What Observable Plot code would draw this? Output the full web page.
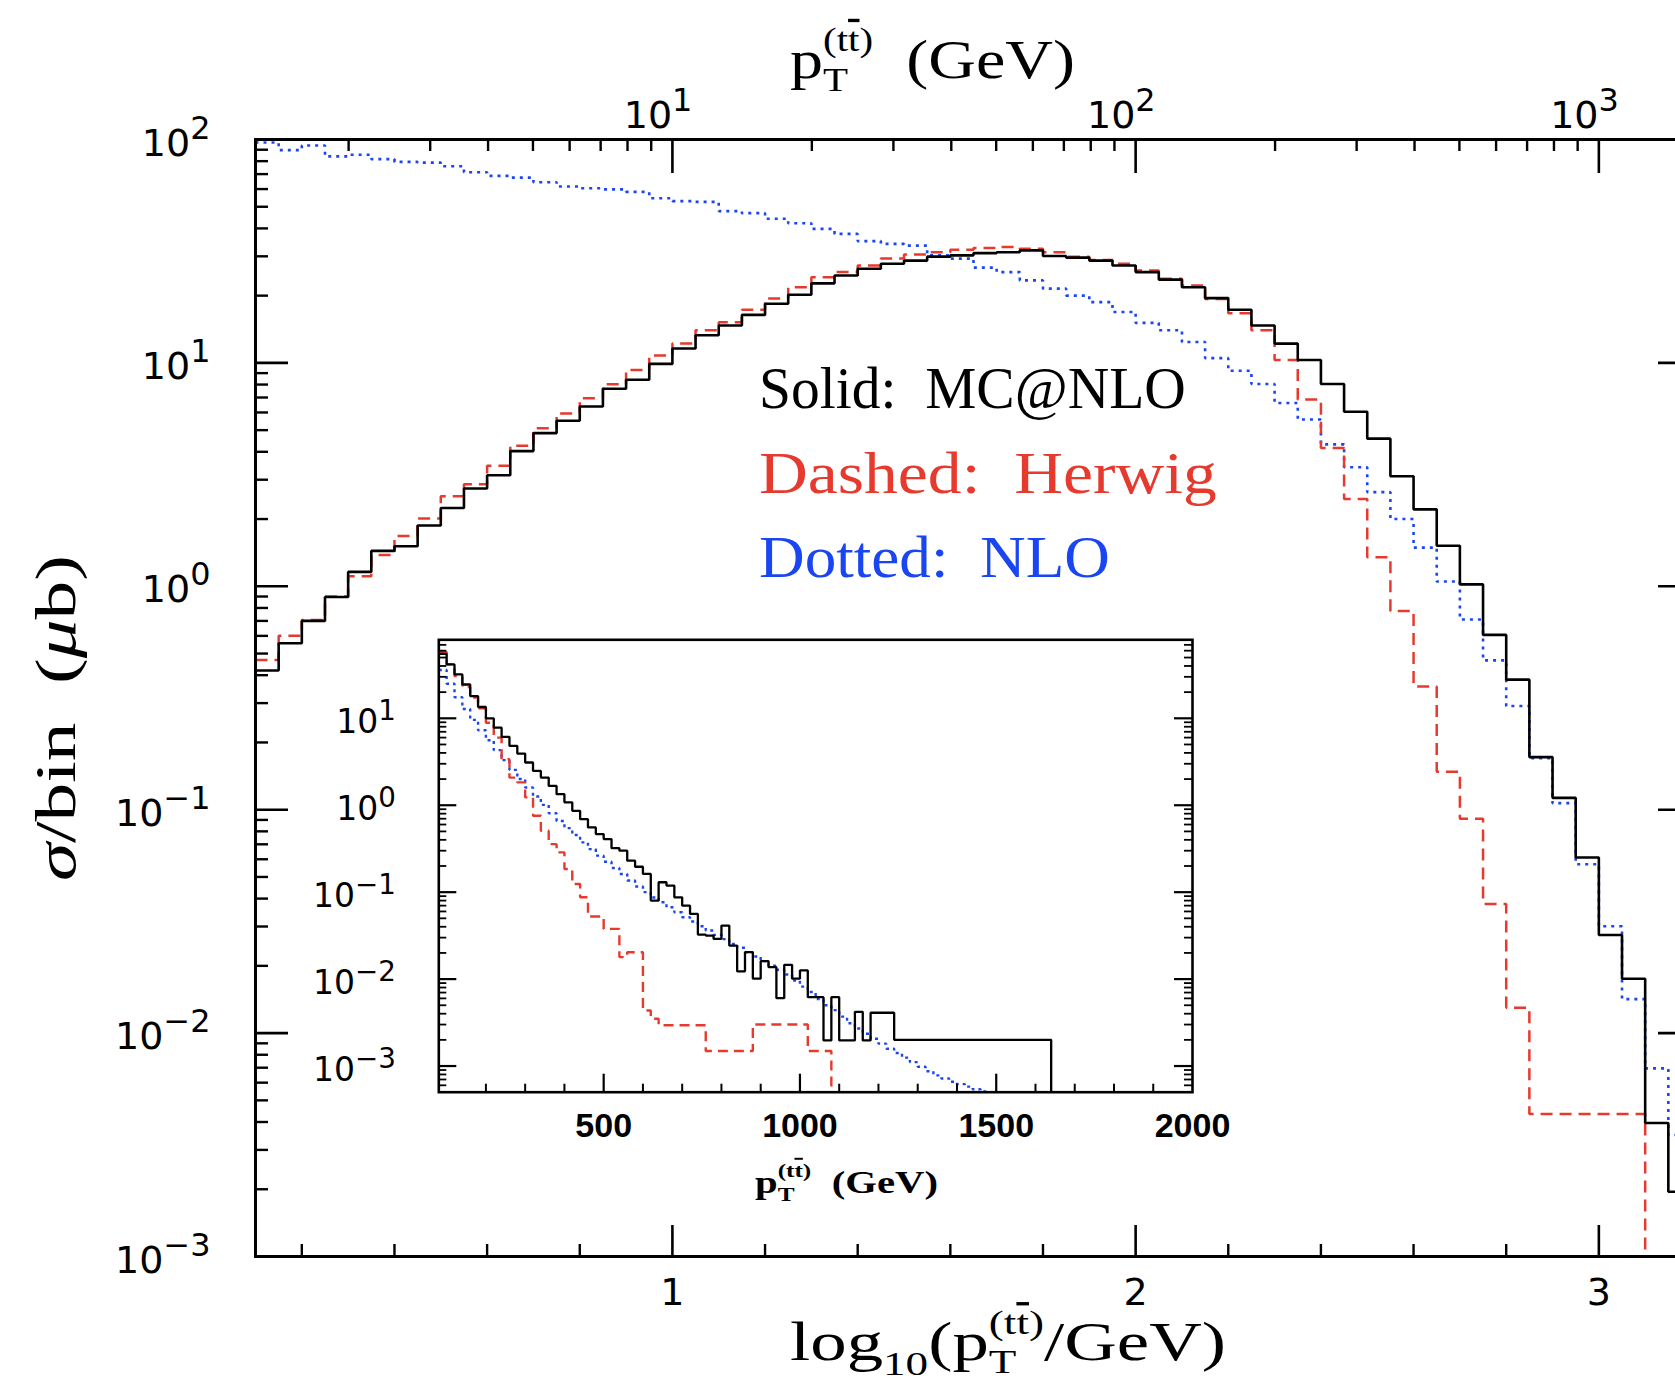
<!DOCTYPE html>
<html><head><meta charset="utf-8">
<script src="https://cdn.jsdelivr.net/npm/d3@7"></script>
<script src="https://cdn.jsdelivr.net/npm/@observablehq/plot@0.6"></script>
<style>
html,body{margin:0;padding:0;background:#fff;overflow:hidden;width:1675px;height:1388px;}
#wrap{position:relative;width:1675px;height:1388px;overflow:hidden;background:#fff;}
#main{position:absolute;left:0;top:0;width:1700px;height:1388px;}
#inset{position:absolute;left:300px;top:600px;width:960px;height:620px;}
svg{max-width:none !important;}
</style></head><body><div id="wrap"><div id="main"></div><div id="inset"></div></div>
<script>
// ---------------- data: main panel (bins in log10(pT/GeV), width 0.05) ----------------
const mainBinLo = [0.10,0.15,0.20,0.25,0.30,0.35,0.40,0.45,0.50,0.55,0.60,0.65,0.70,0.75,0.80,0.85,0.90,0.95,1.00,1.05,1.10,1.15,1.20,1.25,1.30,1.35,1.40,1.45,1.50,1.55,1.60,1.65,1.70,1.75,1.80,1.85,1.90,1.95,2.00,2.05,2.10,2.15,2.20,2.25,2.30,2.35,2.40,2.45,2.50,2.55,2.60,2.65,2.70,2.75,2.80,2.85,2.90,2.95,3.00,3.05,3.10,3.15];
const mainBinHiLast = 3.20;
const mainMCatNLO = [0.42,0.556,0.70,0.895,1.16,1.44,1.51,1.87,2.24,2.74,3.14,4.03,4.85,5.51,6.38,7.66,8.4,9.9,11.6,13.3,14.7,16.4,18.4,20.2,22.7,24.6,26.4,27.8,28.7,29.9,30.3,31.0,31.3,31.9,30.1,29.6,28.7,27.3,25.5,23.6,21.8,19.5,17.3,14.7,12.2,10.3,8.04,6.04,4.58,3.11,2.21,1.52,1.02,0.606,0.382,0.172,0.113,0.0611,0.0275,0.0175,0.00396,0.00195];
const mainHerwig = [0.468,0.60,0.706,0.90,1.11,1.38,1.68,2.01,2.53,2.86,3.46,4.26,5.1,5.93,6.94,8.03,9.3,10.8,12.2,14.0,15.2,17.3,19.4,21.8,24.2,25.5,27.3,29.3,30.6,31.3,32.1,32.7,33.0,32.4,31.3,29.9,28.9,27.8,25.9,23.8,22.2,19.3,16.7,14.0,10.3,6.86,4.16,2.46,1.35,0.776,0.356,0.148,0.0912,0.0378,0.0130,0.00434,0.00434,0.00434,0.00434,0.00434,0,0];
const mainNLO = [97,89.6,94,84,85.4,81.7,79.4,78.8,75.9,71.3,68.7,67.5,64.4,61.6,60.5,59.8,58.3,54.6,53,52.6,47.8,46.8,44.2,42.2,39.8,37.8,35.1,34.1,33.5,30.3,29.3,26.7,25.5,23.4,21.5,20.0,18.7,16.9,15.1,14.0,12.4,10.5,9.22,8.04,6.61,5.58,4.32,3.41,2.64,2.00,1.49,1.05,0.71,0.466,0.291,0.17,0.107,0.057,0.0301,0.0142,0.00695,0.0035];

// ---------------- data: inset (bins in pT, 20 GeV wide) ----------------
const insetBinLo = [80,100,120,140,160,180,200,220,240,260,
 280,300,320,340,360,380,400,420,440,460,
 480,500,520,540,560,580,600,620,640,660,
 680,700,720,740,760,780,800,820,840,860,
 880,900,920,940,960,980,1000,1020,1040,1060,
 1080,1100,1120,1140,1160,1180,1200,1220,1240,1260,
 1280,1300,1320,1340,1360,1380,1400,1420,1440,1460,
 1480,1500,1520,1540,1560,1580,1600,1620,1640,1660,
 1680,1700,1720,1740,1760,1780,1800,1820,1840,1860,
 1880,1900,1920,1940,1960,1980];
const insetBinHiLast = 2000;
const insetMCatNLO = [55,41.7,32,24.5,18,13.5,10,7.8,6.1,4.81,
 3.93,3.1,2.48,2.08,1.67,1.34,1.08,0.863,0.692,0.556,
 0.466,0.408,0.321,0.300,0.230,0.196,0.162,0.080,0.130,0.119,
 0.0873,0.070,0.0562,0.0325,0.0317,0.029,0.0413,0.0243,0.0123,0.0204,
 0.0101,0.0161,0.0137,0.00604,0.0146,0.0101,0.0126,0.0062,0.0062,0.00197,
 0.0062,0.00197,0.00197,0.0042,0.00197,0.0041,0.0041,0.0041,0.002,0.002,
 0.002,0.002,0.002,0.002,0.002,0.002,0.002,0.002,0.002,0.002,
 0.002,0.002,0.002,0.002,0.002,0.002,0.002,0.002,0,0,
 0,0,0,0,0,0,0,0,0,0,
 0,0,0,0,0,0];
const insetHerwig = [58,41.7,30.6,22.9,17.3,13.0,8.9,6.0,3.38,2.08,
 1.83,1.23,0.757,0.509,0.357,0.287,0.185,0.124,0.0873,0.0524,
 0.0524,0.0378,0.0378,0.0179,0.0204,0.0204,0.00436,0.0035,0.00294,0.00294,
 0.00294,0.00294,0.00294,0.00294,0.00149,0.00149,0.00149,0.00149,0.00149,0.00149,
 0.00301,0.00301,0.00301,0.00301,0.00301,0.00301,0.00301,0.00149,0.00149,0.00149,
 0,0,0,0,0,0,0,0,0,0,
 0,0,0,0,0,0,0,0,0,0,
 0,0,0,0,0,0,0,0,0,0,
 0,0,0,0,0,0,0,0,0,0,
 0,0,0,0,0,0];
const insetNLO = [36,25,17.5,12.8,9.6,7.3,5.6,4.3,3.3,2.55,
 2.0,1.6,1.26,1.01,0.81,0.66,0.546,0.454,0.374,0.313,
 0.263,0.224,0.190,0.162,0.136,0.116,0.100,0.087,0.0766,0.067,
 0.0587,0.0514,0.0459,0.0406,0.0362,0.0323,0.0288,0.0254,0.0229,0.0204,
 0.0182,0.0161,0.0143,0.0128,0.0113,0.0096,0.0082,0.0071,0.0059,0.0050,
 0.0044,0.0037,0.0031,0.0027,0.00235,0.00206,0.00181,0.00158,0.00141,0.00125,
 0.00111,0.00098,0.00087,0.00078,0.00072,0.00066,0.00062,0.00058,0.00054,0.00051,
 0,0,0,0,0,0,0,0,0,0,
 0,0,0,0,0,0,0,0,0,0,
 0,0,0,0,0,0];

// ---------------- ticks / labels ----------------
const mainXMajor = [1, 2, 3];
const mainXMinor = [0.2,0.4,0.6,0.8,1.2,1.4,1.6,1.8,2.2,2.4,2.6,2.8];
const topMajorGeV = [10, 100, 1000];
const topMinorGeV = [2,3,4,5,6,7,8,9,20,30,40,50,60,70,80,90,200,300,400,500,600,700,800,900];
const mainYMajor = [1e-3, 1e-2, 1e-1, 1, 10, 100];
const insetYMajor = [1e-3, 1e-2, 1e-1, 1, 10];
const insetXMajor = [500, 1000, 1500];
const insetXMinor = [200,300,400,600,700,800,900,1100,1200,1300,1400,1600,1700,1800,1900];
const insetXLabels = [500, 1000, 1500, 2000];
const legendLabels = ["Solid:\u2002MC@NLO", "Dashed:\u2002Herwig", "Dotted:\u2002NLO"];

const BLACK = "#000000", RED = "#e63a2e", BLUE = "#1a46f2";

function logMinors(dlo, dhi, min, max) {
  const out = [];
  for (let d = dlo; d <= dhi; d++) for (let k = 2; k <= 9; k++) {
    const v = k * Math.pow(10, d);
    if (v > min && v < max) out.push(v);
  }
  return out;
}
const mainYMinor = logMinors(-3, 1, 1e-3, 1e2);
const insetYMinor = logMinors(-4, 1, 5e-4, 80);

function steps(lo, hiLast, vals) {
  const pts = lo.map((x, i) => ({x, y: vals[i] > 0 ? vals[i] : 1e-9}));
  pts.push({x: hiLast, y: pts[pts.length - 1].y});
  return pts;
}

const lineOpts = {x: "x", y: "y", curve: "step-after", strokeLinecap: "butt", strokeLinejoin: "miter", clip: true};

// ---------------- main plot ----------------
const mW = 1700, mH = 1388, mL = 255, mR = 9, mT = 139, mB = 132;
const pW = mW - mL - mR, pH = mH - mT - mB;
const tickFont = "DejaVu Sans, Verdana, sans-serif";
const plotStyle = {background: "transparent", overflow: "visible", maxWidth: "none"};

const mainPlot = Plot.plot({
  width: mW, height: mH, marginLeft: mL, marginRight: mR, marginTop: mT, marginBottom: mB,
  style: plotStyle,
  x: {domain: [0.1, 3.2], axis: null},
  y: {type: "log", domain: [1e-3, 1e2], axis: null},
  marks: [
    Plot.line(steps(mainBinLo, mainBinHiLast, mainNLO), {...lineOpts, stroke: BLUE, strokeWidth: 2.6, strokeDasharray: "3,5"}),
    Plot.line(steps(mainBinLo, mainBinHiLast, mainHerwig), {...lineOpts, stroke: RED, strokeWidth: 2.5, strokeDasharray: "12,7"}),
    Plot.line(steps(mainBinLo, mainBinHiLast, mainMCatNLO), {...lineOpts, stroke: BLACK, strokeWidth: 2.6}),
    Plot.frame({stroke: BLACK, strokeWidth: 3}),
    Plot.tickX(mainXMajor, {x: d => d, stroke: BLACK, strokeWidth: 2.6, insetTop: pH - 31}),
    Plot.tickX(mainXMinor, {x: d => d, stroke: BLACK, strokeWidth: 2.4, insetTop: pH - 12}),
    Plot.tickX(topMajorGeV, {x: d => Math.log10(d), stroke: BLACK, strokeWidth: 2.6, insetBottom: pH - 34}),
    Plot.tickX(topMinorGeV, {x: d => Math.log10(d), stroke: BLACK, strokeWidth: 2.4, insetBottom: pH - 12}),
    Plot.tickY(mainYMajor, {y: d => d, stroke: BLACK, strokeWidth: 2.6, insetRight: pW - 33}),
    Plot.tickY(mainYMinor, {y: d => d, stroke: BLACK, strokeWidth: 2.4, insetRight: pW - 13}),
    Plot.tickY(mainYMajor, {y: d => d, stroke: BLACK, strokeWidth: 2.6, insetLeft: pW - 33}),
    Plot.tickY(mainYMinor, {y: d => d, stroke: BLACK, strokeWidth: 2.4, insetLeft: pW - 13}),
    Plot.text(mainYMajor, {y: d => d, frameAnchor: "left", textAnchor: "end", dx: -45, dy: 4,
      text: d => "10^" + Math.round(Math.log10(d)), fontSize: 38, fontFamily: tickFont, fill: BLACK}),
    Plot.text(mainXMajor, {x: d => d, frameAnchor: "bottom", lineAnchor: "top", dy: 22,
      text: d => String(d), fontSize: 38, fontFamily: tickFont, fill: BLACK}),
    Plot.text(topMajorGeV, {x: d => Math.log10(d), frameAnchor: "top", lineAnchor: "bottom", textAnchor: "end", dx: 20, dy: -12,
      text: d => "10^" + Math.round(Math.log10(d)), fontSize: 38, fontFamily: tickFont, fill: BLACK})
  ]
});
mainPlot.style.maxWidth = "none";
document.getElementById("main").appendChild(mainPlot);

// ---------------- inset plot ----------------
const iW = 960, iH = 620, iL = 138.3, iR = 68, iT = 39.3, iB = 128.3;
const ipW = iW - iL - iR, ipH = iH - iT - iB;
const insetPlot = Plot.plot({
  width: iW, height: iH, marginLeft: iL, marginRight: iR, marginTop: iT, marginBottom: iB,
  style: plotStyle,
  x: {domain: [80, 2000], axis: null},
  y: {type: "log", domain: [5e-4, 80], axis: null},
  marks: [
    Plot.line(steps(insetBinLo, insetBinHiLast, insetNLO), {...lineOpts, stroke: BLUE, strokeWidth: 2.4, strokeDasharray: "3,4"}),
    Plot.line(steps(insetBinLo, insetBinHiLast, insetHerwig), {...lineOpts, stroke: RED, strokeWidth: 2.4, strokeDasharray: "10,6"}),
    Plot.line(steps(insetBinLo, insetBinHiLast, insetMCatNLO), {...lineOpts, stroke: BLACK, strokeWidth: 2.3}),
    Plot.frame({stroke: BLACK, strokeWidth: 2.6}),
    Plot.tickX(insetXMajor, {x: d => d, stroke: BLACK, strokeWidth: 2.2, insetTop: ipH - 18}),
    Plot.tickX(insetXMinor, {x: d => d, stroke: BLACK, strokeWidth: 2, insetTop: ipH - 8}),
    Plot.tickY(insetYMajor, {y: d => d, stroke: BLACK, strokeWidth: 2.2, insetRight: ipW - 18}),
    Plot.tickY(insetYMinor, {y: d => d, stroke: BLACK, strokeWidth: 1.8, insetRight: ipW - 8}),
    Plot.tickY(insetYMajor, {y: d => d, stroke: BLACK, strokeWidth: 2.2, insetLeft: ipW - 18}),
    Plot.tickY(insetYMinor, {y: d => d, stroke: BLACK, strokeWidth: 1.8, insetLeft: ipW - 8}),
    Plot.text(insetYMajor, {y: d => d, frameAnchor: "left", textAnchor: "end", dx: -43, dy: 4,
      text: d => "10^" + Math.round(Math.log10(d)), fontSize: 33, fontFamily: tickFont, fill: BLACK}),
    Plot.text(insetXLabels, {x: d => d, frameAnchor: "bottom", lineAnchor: "top", dy: 21,
      text: d => String(d), fontSize: 34, fontWeight: "bold", fontFamily: "Liberation Sans, Arial, sans-serif", fill: BLACK})
  ]
});
insetPlot.style.maxWidth = "none";
document.getElementById("inset").appendChild(insetPlot);

// ---------------- superscript exponents on "10^k" labels ----------------
function supify(svg, expScale, raise) {
  d3.select(svg).selectAll("text").each(function () {
    const m = /^10\^(-?\d+)$/.exec(this.textContent);
    if (!m) return;
    const e = m[1].replace("-", "\u2212");
    const sel = d3.select(this);
    const fs = parseFloat(getComputedStyle(this).fontSize) || 36;
    sel.text(null);
    sel.append("tspan").text("10");
    sel.append("tspan").attr("dy", -raise).attr("font-size", fs * expScale).text(e);
  });
}
supify(mainPlot, 0.84, 17);
supify(insetPlot, 0.84, 13);

// ---------------- rich text (titles, legend): one <text> per label ----------------
const serif = "Liberation Serif, Times New Roman, serif";
function rich(svg, parts, o) {
  const g = d3.select(svg).append("g");
  const inner = g.append("g");
  const t = inner.append("text")
    .attr("font-family", o.family).attr("font-size", o.size).attr("fill", o.fill)
    .attr("font-weight", o.weight || "normal").attr("text-anchor", "start")
    .style("text-anchor", "start");
  const spans = parts.map(p => {
    const ts = t.append("tspan").attr("font-size", o.size * (p.k || 1)).attr("y", (p.sh || 0) * o.size);
    for (const s of p.segs) {
      const c = ts.append("tspan").text(s.t);
      if (s.over) c.style("text-decoration", "overline");
      if (s.it) c.attr("font-style", "italic");
    }
    return ts;
  });
  let x = 0, stackX = 0, stackW = 0;
  parts.forEach((p, i) => {
    const w = spans[i].node().getComputedTextLength();
    if (p.stack === "a") { spans[i].attr("x", x); stackX = x; stackW = w; x += w; }
    else if (p.stack === "b") { spans[i].attr("x", stackX); x = stackX + Math.max(stackW, w); }
    else { spans[i].attr("x", x); x += w; }
  });
  const sx = o.width ? o.width / x : 1;
  if (o.rotate) {
    g.attr("transform", `translate(${o.x},${o.y}) rotate(-90)`);
    inner.attr("transform", `scale(${sx},1) translate(${-x / 2},0)`);
  } else {
    g.attr("transform", `translate(${o.x},${o.y})`);
    inner.attr("transform", `scale(${sx},1)`);
  }
}
const ttbar = [{t: "(t"}, {t: "t", over: true}, {t: ")"}];

// bottom axis title: log10(pT^(tt)/GeV)
rich(mainPlot, [
  {segs: [{t: "log"}]},
  {k: 0.62, sh: 0.27, segs: [{t: "10"}]},
  {segs: [{t: "(p"}]},
  {k: 0.62, sh: 0.24, stack: "a", segs: [{t: "T"}]},
  {k: 0.62, sh: -0.48, stack: "b", segs: ttbar},
  {segs: [{t: "/GeV)"}]}
], {x: 790, y: 1360, size: 54, family: serif, fill: BLACK, width: 436});

// top axis title: pT^(tt) (GeV)
rich(mainPlot, [
  {segs: [{t: "p"}]},
  {k: 0.62, sh: 0.24, stack: "a", segs: [{t: "T"}]},
  {k: 0.62, sh: -0.5, stack: "b", segs: ttbar},
  {segs: [{t: "\u2002(GeV)"}]}
], {x: 790, y: 78, size: 54, family: serif, fill: BLACK, width: 285});

// left axis title
rich(mainPlot, [
  {segs: [{t: "\u03c3", it: true}, {t: "/bin\u2002("}, {t: "\u03bc", it: true}, {t: "b)"}]}
], {x: 75, y: 718, size: 56, family: serif, fill: BLACK, width: 326, rotate: true});

// legend
const legendColors = [BLACK, RED, BLUE];
const legendBaselines = [408, 493, 577];
const legendWidths = [427, 458, 351];
legendLabels.forEach((lab, i) => {
  rich(mainPlot, [{segs: [{t: lab}]}],
    {x: 759, y: legendBaselines[i], size: 60, family: serif, fill: legendColors[i], width: legendWidths[i]});
});

// inset x title
rich(insetPlot, [
  {segs: [{t: "p"}]},
  {k: 0.62, sh: 0.26, stack: "a", segs: [{t: "T"}]},
  {k: 0.62, sh: -0.5, stack: "b", segs: ttbar},
  {segs: [{t: "\u2002(GeV)"}]}
], {x: 755 - 300, y: 1193 - 600, size: 32, family: serif, fill: BLACK, width: 183, weight: "bold"});
</script></body></html>
